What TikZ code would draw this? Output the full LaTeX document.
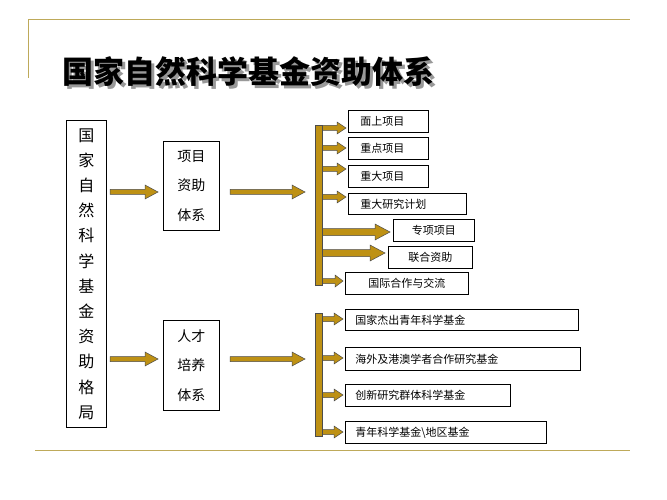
\documentclass[tikz,border=0pt]{standalone}
\usepackage{fontspec}
\setmainfont{Noto Sans CJK SC}
\definecolor{gold}{RGB}{190,145,20}
\definecolor{linegold}{RGB}{190,170,90}
\newcommand{\blockarrow}[6]{% x1 x2 y halfshaft halfhead headlen
  \filldraw[fill=gold,draw=black!70,line width=0.5pt]
   (#1,#3-#4) -- (#2-#6,#3-#4) -- (#2-#6,#3-#5) -- (#2,#3) -- (#2-#6,#3+#5) -- (#2-#6,#3+#4) -- (#1,#3+#4) -- cycle;}
\begin{document}
\begin{tikzpicture}[x=1pt,y=-1pt,
  box/.style={draw=black,line width=0.7pt,fill=white,anchor=north west,inner sep=0pt,font=\fontsize{11}{13}\selectfont},
  tall/.style={draw=black,line width=0.8pt,anchor=north west,inner sep=0pt,align=center}]
\useasboundingbox[fill=white] (0,0) rectangle (667,500);
\draw[linegold,line width=1pt] (28,78) -- (28,20) -- (630,20);
\draw[linegold,line width=1pt] (35,450) -- (630,450);
\node[font=\fontsize{31}{33}\selectfont\bfseries,text=black!40,anchor=west] (shadow) at (62,75) {国家自然科学基金资助体系};
\node[font=\fontsize{31}{33}\selectfont\bfseries,anchor=west] (title) at (59,72) {国家自然科学基金资助体系};
% left column
\node[tall,minimum width=40pt,minimum height=307pt,font=\fontsize{16}{25.2}\selectfont] (main) at (66,120) {国\\家\\自\\然\\科\\学\\基\\金\\资\\助\\格\\局};
\node[tall,minimum width=56pt,minimum height=89pt,font=\fontsize{14}{29.5}\selectfont] (xm) at (163,141) {项目\\资助\\体系};
\node[tall,minimum width=56pt,minimum height=90pt,font=\fontsize{14}{29.5}\selectfont] (rc) at (163,320) {人才\\培养\\体系};
% boxes upper
\node[box,minimum width=80pt,minimum height=22pt,text width=72pt,align=left] (b1) at (348,110) {\hspace*{8pt}面上项目};
\node[box,minimum width=80pt,minimum height=22pt,text width=72pt,align=left] (b2) at (348,137) {\hspace*{8pt}重点项目};
\node[box,minimum width=80pt,minimum height=22pt,text width=72pt,align=left] (b3) at (348,165) {\hspace*{8pt}重大项目};
\node[box,minimum width=118pt,minimum height=21pt,text width=110pt,align=left] (b4) at (348,193) {\hspace*{8pt}重大研究计划};
\node[box,minimum width=81pt,minimum height=22pt] (b5) at (393,219) {专项项目};
\node[box,minimum width=84pt,minimum height=22pt] (b6) at (388,246) {联合资助};
\node[box,minimum width=123pt,minimum height=22pt] (b7) at (345,272) {国际合作与交流};
% lower
\node[box,minimum width=233pt,minimum height=21pt,text width=225pt,align=left] (c1) at (345,309) {\hspace*{6pt}国家杰出青年科学基金};
\node[box,minimum width=235pt,minimum height=23pt,text width=227pt,align=left] (c2) at (345,347) {\hspace*{6pt}海外及港澳学者合作研究基金};
\node[box,minimum width=165pt,minimum height=22pt,text width=157pt,align=left] (c3) at (345,384) {\hspace*{6pt}创新研究群体科学基金};
\node[box,minimum width=201pt,minimum height=22pt,text width=193pt,align=left] (c4) at (345,421) {\hspace*{6pt}青年科学基金\textbackslash 地区基金};
% main arrows
\blockarrow{110}{158}{192}{2.5}{7}{13}
\blockarrow{110}{158}{359}{2.5}{7}{13}
\blockarrow{230}{305}{192}{2.5}{7}{13}
\blockarrow{230}{305}{359}{2.5}{7}{13}
% upper bracket branches
\blockarrow{318}{346}{128}{2.5}{6}{9}
\blockarrow{318}{346}{148}{2.5}{6}{9}
\blockarrow{318}{346}{169}{2.5}{6}{9}
\blockarrow{318}{346}{197}{2.5}{6}{9}
\blockarrow{318}{390}{232}{3.5}{8}{15}
\blockarrow{318}{385}{253}{3.5}{8}{15}
\blockarrow{318}{343}{281}{2.5}{6}{8}
\filldraw[fill=gold,draw=black!70,line width=0.5pt] (315,125) rectangle (322,285);
% lower bracket
\blockarrow{318}{343}{319}{2.5}{6}{9}
\blockarrow{318}{343}{358}{2.5}{6}{9}
\blockarrow{318}{343}{395}{2.5}{6}{9}
\blockarrow{318}{343}{432}{2.5}{6}{9}
\filldraw[fill=gold,draw=black!70,line width=0.5pt] (315,313) rectangle (322,436);
\end{tikzpicture}
\end{document}
